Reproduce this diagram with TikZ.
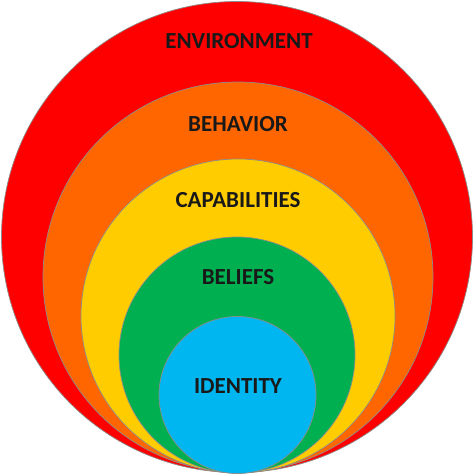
\documentclass[tikz,border=0pt]{standalone}
\usepackage{fontspec}
\setmainfont{Carlito}
\definecolor{cred}{RGB}{255,0,0}
\definecolor{corange}{RGB}{255,102,0}
\definecolor{cyellow}{RGB}{255,204,0}
\definecolor{cgreen}{RGB}{0,176,80}
\definecolor{cblue}{RGB}{0,182,240}
\begin{document}
\begin{tikzpicture}[x=1pt,y=-1pt,
  ring/.style={draw=black!45, line width=0.7pt},
  lbl/.style={font=\fontsize{23}{25}\selectfont\bfseries, text=black!90}]
\useasboundingbox (0,0) rectangle (474,474);
\fill[white] (0,0) rectangle (474,474);
\path[ring, fill=cred] (237,237) circle (235.5);
\path[ring, fill=corange] (238,277) circle (195);
\path[ring, fill=cyellow] (238,316) circle (157);
\path[ring, fill=cgreen] (237,355) circle (118);
\path[ring, fill=cblue] (237.5,395) circle (78.5);
\node[lbl] (env) at (239,41) {ENVIRONMENT};
\node[lbl] (beh) at (238,124) {BEHAVIOR};
\node[lbl] (cap) at (238,200) {CAPABILITIES};
\node[lbl] (bel) at (238,277) {BELIEFS};
\node[lbl] (ide) at (238,386) {IDENTITY};
\end{tikzpicture}
\end{document}
